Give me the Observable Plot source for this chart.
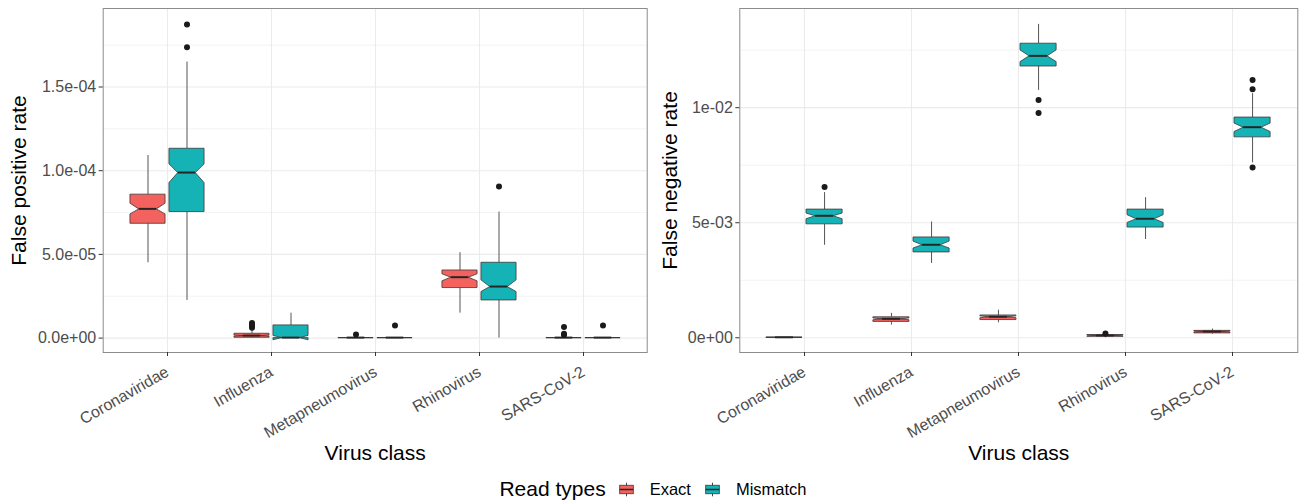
<!DOCTYPE html>
<html>
<head>
<meta charset="utf-8">
<script src="https://cdn.jsdelivr.net/npm/d3@7"></script>
<script src="https://cdn.jsdelivr.net/npm/@observablehq/plot@0.6"></script>
<style>
  html, body { margin: 0; padding: 0; background: #fff; }
  body { font-family: "Liberation Sans", Arial, sans-serif; }
  #wrap { width: 1306px; height: 504px; position: relative; overflow: hidden; }
  #charts { display: flex; width: 1306px; height: 470px; }
  #legend { display: flex; justify-content: center; align-items: center; height: 30px; padding-top: 4px; color: #000; }
  #legend .ltitle { font-size: 21px; margin-right: 12px; }
  #legend .llabel { font-size: 16.5px; margin-left: 15px; margin-right: 13px; }
  #legend .llabel:last-child { margin-right: 0; }
  #legend svg { display: block; }
</style>
</head>
<body>
<div id="wrap">
  <div id="charts"></div>
  <div id="legend"></div>
</div>
<script>
// ---------------- data ----------------
const categories = ["Coronaviridae", "Influenza", "Metapneumovirus", "Rhinovirus", "SARS-CoV-2"];
const readTypes = ["Exact", "Mismatch"];
const typeColors = ["#F3625E", "#16B3B6"];

// box statistics per category: lower whisker, q1, notch low, median, notch high, q3, upper whisker
const statNames = ["lo", "q1", "nlo", "med", "nhi", "q3", "hi"];

// False positive rate
const fprExact = [
  [4.50e-5, 6.83e-5, 7.39e-5, 7.69e-5, 8.03e-5, 8.57e-5, 1.091e-4],
  [0, 0.2e-6, 0.9e-6, 1.2e-6, 1.5e-6, 2.6e-6, 5.0e-6],
  [0, 0, 0, 0, 0, 0, 0],
  [1.49e-5, 2.99e-5, 3.39e-5, 3.61e-5, 3.81e-5, 4.04e-5, 5.10e-5],
  [0, 0, 0, 0, 0, 0, 0]
];
const fprMismatch = [
  [2.25e-5, 7.53e-5, 9.26e-5, 9.86e-5, 1.038e-4, 1.131e-4, 1.649e-4],
  [0, 0, -1.3e-6, 0, 1.3e-6, 7.6e-6, 1.49e-5],
  [0, 0, 0, 0, 0, 0, 0],
  [0, 2.25e-5, 2.75e-5, 3.05e-5, 3.45e-5, 4.50e-5, 7.53e-5],
  [0, 0, 0, 0, 0, 0, 0]
];
const fprOutliers = [
  ["Coronaviridae", "Mismatch", 1.874e-4],
  ["Coronaviridae", "Mismatch", 1.738e-4],
  ["Influenza", "Exact", 6.2e-6],
  ["Influenza", "Exact", 7.2e-6],
  ["Influenza", "Exact", 8.3e-6],
  ["Influenza", "Exact", 9.0e-6],
  ["Metapneumovirus", "Exact", 2.2e-6],
  ["Metapneumovirus", "Mismatch", 7.6e-6],
  ["Rhinovirus", "Mismatch", 9.06e-5],
  ["SARS-CoV-2", "Exact", 1.8e-6],
  ["SARS-CoV-2", "Exact", 2.6e-6],
  ["SARS-CoV-2", "Exact", 6.6e-6],
  ["SARS-CoV-2", "Mismatch", 7.6e-6]
];
const fprTicks = [0, 5e-5, 1e-4, 1.5e-4];
const fprMinor = [2.5e-5, 7.5e-5, 1.25e-4, 1.75e-4];

// False negative rate
const fnrExact = [
  [0, 0, 0, 0, 0, 0, 0],
  [0.00055, 0.00069, 0.00076, 0.00080, 0.00084, 0.00089, 0.00106],
  [0.00065, 0.00077, 0.00085, 0.00089, 0.00093, 0.00097, 0.00120],
  [0, 0.00004, 0.00006, 0.00008, 0.00010, 0.00012, 0.00015],
  [0.00016, 0.00019, 0.00023, 0.00025, 0.00027, 0.00030, 0.00038]
];
const fnrMismatch = [
  [0.00402, 0.00493, 0.00515, 0.00528, 0.00540, 0.00557, 0.00631],
  [0.00323, 0.00371, 0.00388, 0.00402, 0.00418, 0.00436, 0.00503],
  [0.01075, 0.01179, 0.01198, 0.01223, 0.01249, 0.01278, 0.01362],
  [0.00427, 0.00479, 0.00499, 0.00515, 0.00533, 0.00557, 0.00609],
  [0.00760, 0.00871, 0.00894, 0.00913, 0.00931, 0.00957, 0.01061]
];
const fnrOutliers = [
  ["Coronaviridae", "Mismatch", 0.00655],
  ["Metapneumovirus", "Mismatch", 0.01033],
  ["Metapneumovirus", "Mismatch", 0.00977],
  ["Rhinovirus", "Exact", 0.00019],
  ["SARS-CoV-2", "Mismatch", 0.0112],
  ["SARS-CoV-2", "Mismatch", 0.0108],
  ["SARS-CoV-2", "Mismatch", 0.0074]
];
const fnrTicks = [0, 0.005, 0.01];
const fnrMinor = [0.0025, 0.0075, 0.0125];

// ---------------- helpers ----------------
const DODGE = 0.1875;     // dodge offset, in category steps
const BOXW = 0.3375;      // box width, in category steps
const NOTCHW = 0.5;       // notch width relative to box

function toRows(exact, mismatch) {
  return categories.flatMap((c, i) =>
    [[readTypes[0], exact[i]], [readTypes[1], mismatch[i]]].map(([t, s]) =>
      Object.fromEntries([["cat", c], ["type", t], ...statNames.map((k, j) => [k, s[j]])])));
}
function toOutliers(list) {
  return list.map(([cat, type, value]) => ({cat, type, value}));
}
function fmtExp(digits) {
  return d => {
    const [m, e] = d.toExponential(digits).split("e");
    return m + "e" + e[0] + e.slice(1).padStart(2, "0");
  };
}
const side = t => (t === readTypes[0] ? -1 : 1);

// shift x positions of a mark by the dodge amount (derived from the point scale step)
const dodge = data => function (index, scales, values, dims, ctx, next) {
  const s = scales.x.step();
  const x = Float64Array.from(values.x, (v, i) => v + side(data[i].type) * DODGE * s);
  return next(index, scales, {...values, x}, dims, ctx);
};

// notched box drawn from the x/y/color scales
const notched = data => function (index, scales) {
  const s = scales.x.step();
  const y = scales.y;
  const g = d3.create("svg:g");
  for (const i of index) {
    const d = data[i];
    const cx = scales.x(d.cat) + side(d.type) * DODGE * s;
    const hw = BOXW * s / 2;
    const nw = hw * NOTCHW;
    const L = cx - hw, R = cx + hw;
    const pts = [
      [L, y(d.q1)], [L, y(d.nlo)], [cx - nw, y(d.med)], [L, y(d.nhi)], [L, y(d.q3)],
      [R, y(d.q3)], [R, y(d.nhi)], [cx + nw, y(d.med)], [R, y(d.nlo)], [R, y(d.q1)]
    ];
    g.append("path")
      .attr("d", "M" + pts.map(p => p.join(",")).join("L") + "Z")
      .attr("fill", scales.color(d.type))
      .attr("stroke", "#3a3a3a")
      .attr("stroke-width", 0.8);
    g.append("line")
      .attr("x1", cx - nw).attr("x2", cx + nw)
      .attr("y1", y(d.med)).attr("y2", y(d.med))
      .attr("stroke", "#262626").attr("stroke-width", 2);
  }
  return g.node();
};

function panel(o) {
  const rows = toRows(o.exact, o.mismatch);
  const outs = toOutliers(o.outliers);
  return Plot.plot({
    width: 653,
    height: 470,
    marginTop: 8,
    marginBottom: 118,
    marginLeft: o.mL,
    marginRight: o.mR,
    style: {fontFamily: "'Liberation Sans', Arial, sans-serif", fontSize: "16px", background: "#fff", overflow: "visible"},
    x: {type: "point", domain: categories, padding: 0.6},
    y: {domain: o.yDomain},
    color: {domain: readTypes, range: typeColors},
    marks: [
      Plot.gridY(o.minor, {stroke: "#ebebeb", strokeOpacity: 1, strokeWidth: 0.6}),
      Plot.gridY(o.major, {stroke: "#ebebeb", strokeOpacity: 1, strokeWidth: 1.1}),
      Plot.gridX({stroke: "#ebebeb", strokeOpacity: 1, strokeWidth: 1.1}),
      Plot.ruleX(rows, {x: "cat", y1: "lo", y2: "q1", stroke: "#555", strokeWidth: 1, render: dodge(rows)}),
      Plot.ruleX(rows, {x: "cat", y1: "q3", y2: "hi", stroke: "#555", strokeWidth: 1, render: dodge(rows)}),
      Plot.dot(rows, {x: "cat", y: "med", fill: "type", render: notched(rows)}),
      Plot.dot(outs, {x: "cat", y: "value", r: 3, fill: "#1a1a1a", stroke: "none", render: dodge(outs)}),
      Plot.frame({stroke: "#8c8c8c", strokeWidth: 1}),
      Plot.axisY(o.major, {tickFormat: o.fmt, tickSize: 4, tickPadding: 3, stroke: "#333", fill: "#4d4d4d", fontSize: 16, label: null}),
      Plot.axisY([], {label: o.yLabel, labelAnchor: "center", labelOffset: o.yLabelOffset, labelArrow: "none", fill: "#000", fontSize: 21}),
      Plot.axisX({tickRotate: -30, tickSize: 4, tickPadding: 14, stroke: "#333", fill: "#4d4d4d", fontSize: 16, label: null}),
      Plot.axisX([], {label: "Virus class", labelAnchor: "center", labelOffset: 107, labelArrow: "none", fill: "#000", fontSize: 21})
    ]
  });
}

const charts = document.getElementById("charts");
charts.append(panel({
  exact: fprExact, mismatch: fprMismatch, outliers: fprOutliers,
  major: fprTicks, minor: fprMinor, fmt: fmtExp(1),
  yDomain: [-8.6e-6, 1.969e-4], yLabel: "False positive rate",
  mL: 102.7, mR: 6.3, yLabelOffset: 92
}));
charts.append(panel({
  exact: fnrExact, mismatch: fnrMismatch, outliers: fnrOutliers,
  major: fnrTicks, minor: fnrMinor, fmt: fmtExp(0),
  yDomain: [-0.00064, 0.01431], yLabel: "False negative rate",
  mL: 86.3, mR: 8.7, yLabelOffset: 78
}));

// ---------------- legend ----------------
const legend = d3.select("#legend");
legend.append("span").attr("class", "ltitle").text("Read types");
readTypes.forEach((t, i) => {
  const k = legend.append("svg").attr("width", 17).attr("height", 17);
  k.append("line").attr("x1", 8.5).attr("x2", 8.5).attr("y1", 1.7).attr("y2", 15.3).attr("stroke", "#444").attr("stroke-width", 1);
  k.append("rect").attr("x", 1.7).attr("y", 4.25).attr("width", 13.6).attr("height", 8.5)
    .attr("fill", typeColors[i]).attr("stroke", "#3a3a3a").attr("stroke-width", 0.8);
  k.append("line").attr("x1", 1.7).attr("x2", 15.3).attr("y1", 8.5).attr("y2", 8.5).attr("stroke", "#262626").attr("stroke-width", 1.5);
  legend.append("span").attr("class", "llabel").text(t);
});
</script>
</body>
</html>
